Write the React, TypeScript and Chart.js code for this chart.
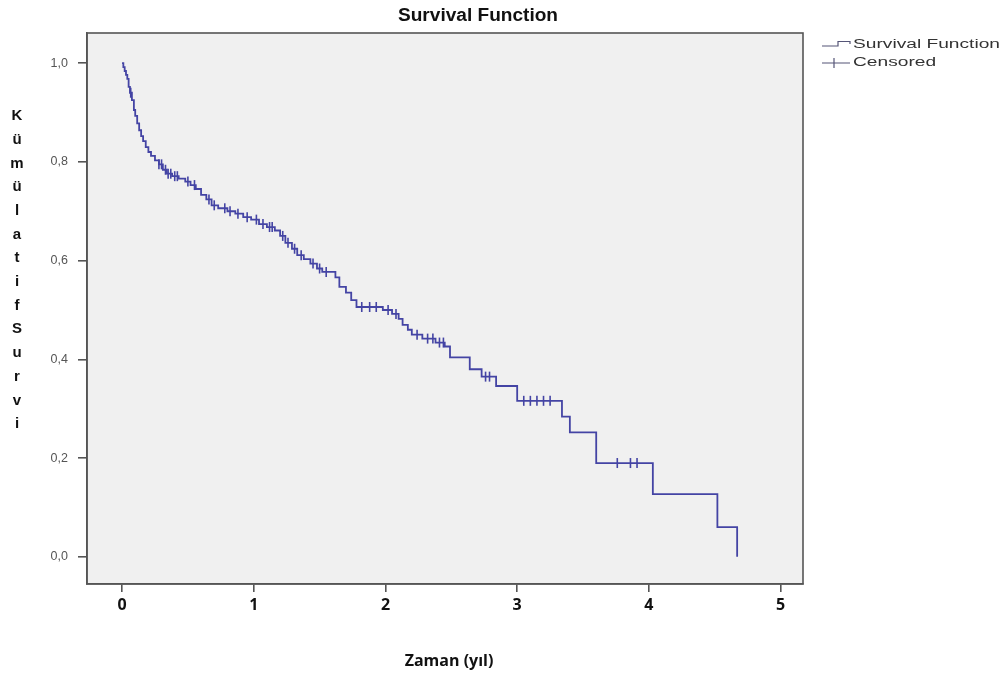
import React, { useEffect, useRef } from "react";
import { Chart, registerables } from "chart.js";
Chart.register(...registerables);

const titleText = "Survival Function";
const xAxisTitle = "Zaman (yıl)";
const yAxisTitle = "KümülatifSurvi";
const legendLabels = ["Survival Function", "Censored"];

const xTickValues = [0, 1, 2, 3, 4, 5];
const yTickValues = [0, 0.2, 0.4, 0.6, 0.8, 1.0];

// Kaplan-Meier step points: time (years) and survival after the drop
const eventTimes = [
  0, 0.01, 0.02, 0.03, 0.04, 0.05, 0.06, 0.075, 0.09, 0.1, 0.115, 0.13, 0.145, 0.16, 0.18, 0.2,
  0.22, 0.25, 0.28, 0.31, 0.34, 0.38, 0.43, 0.48, 0.52, 0.56, 0.6, 0.64, 0.68, 0.73, 0.8, 0.86,
  0.92, 0.98, 1.04, 1.1, 1.16, 1.2, 1.24, 1.29, 1.33, 1.38, 1.43, 1.48, 1.52, 1.62, 1.65, 1.7,
  1.74, 1.78, 1.98, 2.05, 2.1, 2.13, 2.17, 2.2, 2.28, 2.38, 2.45, 2.49, 2.64, 2.73, 2.84, 3.0,
  3.34, 3.4, 3.6, 4.03, 4.52, 4.67,
];
const survival = [
  1.0, 0.992, 0.984, 0.976, 0.968, 0.952, 0.94, 0.925, 0.905, 0.893, 0.878, 0.864, 0.852, 0.842,
  0.83, 0.82, 0.812, 0.803, 0.795, 0.784, 0.776, 0.771, 0.766, 0.76, 0.753, 0.745, 0.733, 0.724,
  0.712, 0.706, 0.7, 0.695, 0.688, 0.683, 0.674, 0.668, 0.661, 0.65, 0.636, 0.624, 0.611, 0.603,
  0.594, 0.584, 0.577, 0.566, 0.547, 0.535, 0.52, 0.506, 0.5, 0.492, 0.482, 0.47, 0.46, 0.45,
  0.442, 0.434, 0.426, 0.404, 0.38, 0.365, 0.346, 0.316, 0.284, 0.252, 0.19, 0.127, 0.06, 0.0,
];
const censorTimes = [
  0.066, 0.28, 0.3, 0.33, 0.35, 0.37, 0.4, 0.42, 0.5, 0.55, 0.66, 0.7, 0.78, 0.82, 0.88, 0.95,
  1.02, 1.07, 1.12, 1.14, 1.22, 1.26, 1.31, 1.36, 1.45, 1.5, 1.55, 1.82, 1.88, 1.93, 2.02, 2.08,
  2.24, 2.32, 2.36, 2.41, 2.44, 2.76, 2.79, 3.05, 3.1, 3.15, 3.2, 3.25, 3.76, 3.86, 3.91,
];

const LINE_COLOR = "#4444a4";

function survAt(t: number): number {
  let s = survival[0];
  for (let i = 0; i < eventTimes.length; i++) {
    if (eventTimes[i] <= t) s = survival[i];
  }
  return s;
}

function fitText(ctx: CanvasRenderingContext2D, text: string, x: number, y: number, width: number | null, align: "left" | "center") {
  const w = ctx.measureText(text).width;
  const sx = width ? width / w : 1;
  ctx.save();
  ctx.translate(x, y);
  ctx.scale(sx, 1);
  ctx.textAlign = align;
  ctx.textBaseline = "middle";
  ctx.fillText(text, 0, 0);
  ctx.restore();
  return sx;
}

const decorPlugin = {
  id: "decor",
  beforeDraw(chart: any) {
    const { ctx, chartArea } = chart;
    ctx.save();
    ctx.fillStyle = "#ffffff";
    ctx.fillRect(0, 0, chart.width, chart.height);
    ctx.fillStyle = "#f0f0f0";
    ctx.fillRect(chartArea.left, chartArea.top, chartArea.right - chartArea.left, chartArea.bottom - chartArea.top);
    ctx.restore();
  },
  afterDraw(chart: any) {
    const { ctx, chartArea } = chart;
    ctx.save();
    // frame
    ctx.strokeStyle = "#555555";
    ctx.lineWidth = 1.6;
    ctx.strokeRect(chartArea.left, chartArea.top, chartArea.right - chartArea.left, chartArea.bottom - chartArea.top);

    // title
    ctx.fillStyle = "#111111";
    ctx.font = "bold 18px 'Liberation Sans', Arial, sans-serif";
    fitText(ctx, titleText, 478, 16, 160, "center");

    // y-axis title: stacked letters
    ctx.font = "bold 15px 'Liberation Sans', Arial, sans-serif";
    ctx.fillStyle = "#111111";
    const letters = Array.from(yAxisTitle);
    letters.forEach((ch, i) => {
      ctx.textAlign = "center";
      ctx.textBaseline = "middle";
      ctx.fillText(ch, 17, 116 + i * 23.7);
    });

    // x-axis title
    ctx.font = "bold 16px 'Open Sans', sans-serif";
    ctx.fillStyle = "#111111";
    fitText(ctx, xAxisTitle, 449, 661, null, "center");

    // legend
    ctx.strokeStyle = "#555577";
    ctx.lineWidth = 1.2;
    ctx.beginPath();
    ctx.moveTo(822, 46);
    ctx.lineTo(838, 46);
    ctx.lineTo(838, 41.5);
    ctx.lineTo(850, 41.5);
    ctx.lineTo(850, 44);
    ctx.stroke();
    ctx.beginPath();
    ctx.moveTo(822, 63);
    ctx.lineTo(850, 63);
    ctx.moveTo(834, 58);
    ctx.lineTo(834, 68);
    ctx.stroke();
    ctx.fillStyle = "#333333";
    ctx.font = "12.5px 'Liberation Sans', Arial, sans-serif";
    const sx = fitText(ctx, legendLabels[0], 853, 45, 147, "left");
    const w2 = ctx.measureText(legendLabels[1]).width * sx;
    fitText(ctx, legendLabels[1], 853, 63, w2, "left");
    ctx.restore();
  },
};

export default function App() {
  const ref = useRef<HTMLCanvasElement | null>(null);
  useEffect(() => {
    document.body.style.margin = "0";
    const canvas = ref.current;
    if (!canvas) return;
    const lineData = eventTimes.map((t, i) => ({ x: t, y: survival[i] }));
    const censorData = censorTimes.map((t) => ({ x: t, y: survAt(t) }));
    const chart = new Chart(canvas, {
      type: "line",
      data: {
        datasets: [
          {
            label: legendLabels[0],
            data: lineData,
            stepped: "before",
            borderColor: LINE_COLOR,
            borderWidth: 1.8,
            pointRadius: 0,
            fill: false,
          },
          {
            label: legendLabels[1],
            data: censorData,
            showLine: false,
            pointStyle: "line",
            rotation: 90,
            pointRadius: 5,
            pointBorderColor: LINE_COLOR,
            pointBorderWidth: 1.6,
            borderColor: LINE_COLOR,
          },
        ],
      },
      options: {
        responsive: false,
        animation: false,
        devicePixelRatio: 1,
        layout: { padding: { top: 33, right: 203, left: 0, bottom: 0 } },
        plugins: {
          legend: { display: false },
          title: { display: false },
          tooltip: { enabled: false },
        },
        scales: {
          x: {
            type: "linear",
            min: -0.266,
            max: 5.17,
            afterBuildTicks: (scale: any) => {
              scale.ticks = xTickValues.map((v) => ({ value: v }));
            },
            afterFit: (scale: any) => {
              scale.height = 91;
            },
            ticks: {
              color: "#111111",
              font: { family: "'Open Sans', sans-serif", size: 16, weight: "bold" },
              padding: 4,
              maxRotation: 0,
              callback: (v: any) => String(v),
            },
            grid: { drawOnChartArea: false, drawTicks: true, tickLength: 8, color: "#555555", lineWidth: 1.6 },
            border: { display: true, color: "#555555", width: 1.6 },
          },
          y: {
            type: "linear",
            min: -0.055,
            max: 1.061,
            afterBuildTicks: (scale: any) => {
              scale.ticks = yTickValues.map((v) => ({ value: v }));
            },
            afterFit: (scale: any) => {
              scale.width = 87;
            },
            ticks: {
              color: "#555555",
              font: { family: "'Liberation Sans', Arial, sans-serif", size: 12.5 },
              padding: 10,
              callback: (v: any) => Number(v).toFixed(1).replace(".", ","),
            },
            grid: { drawOnChartArea: false, drawTicks: true, tickLength: 9, color: "#555555", lineWidth: 1.6 },
            border: { display: true, color: "#555555", width: 1.6 },
          },
        },
      },
      plugins: [decorPlugin],
    } as any);
    return () => chart.destroy();
  }, []);
  return (
    <div style={{ width: 1006, height: 675 }}>
      <canvas ref={ref} width={1006} height={675} style={{ width: 1006, height: 675 }} />
    </div>
  );
}
